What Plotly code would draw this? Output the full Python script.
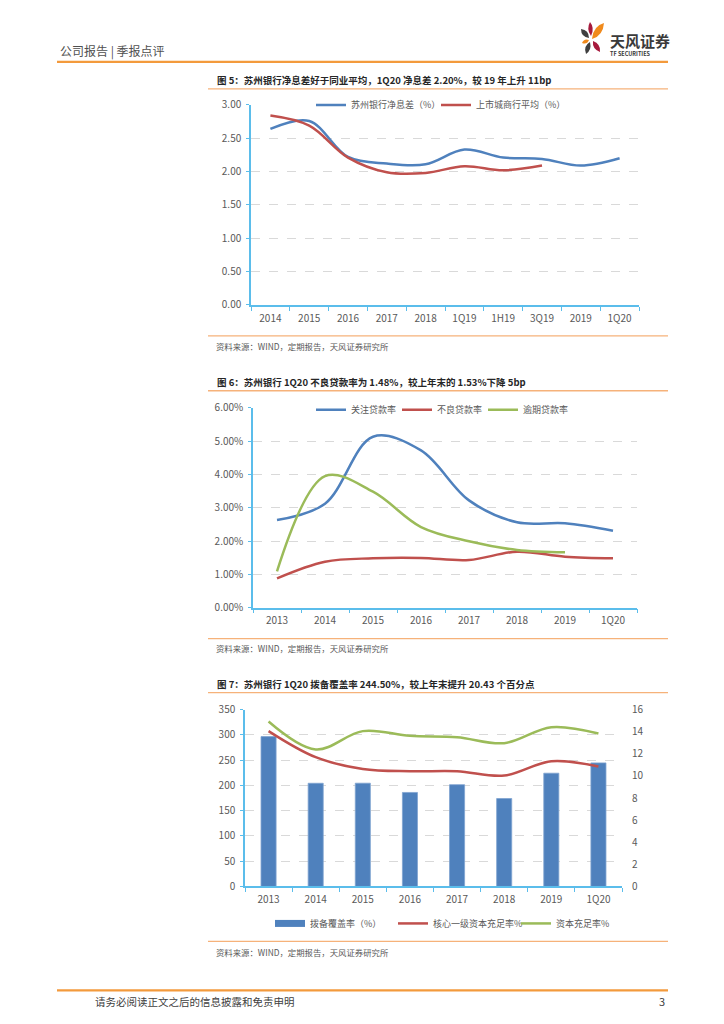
import plotly.graph_objects as go

W, H = 724, 1024

# 图5：净息差
nim_cats = ['2014', '2015', '2016', '2017', '2018', '1Q19', '1H19', '3Q19', '2019', '1Q20']
nim_szb = [2.64, 2.76, 2.22, 2.12, 2.11, 2.33, 2.21, 2.19, 2.09, 2.20]
nim_avg = [2.84, 2.69, 2.21, 1.99, 1.98, 2.08, 2.02, 2.09]

# 图6：资产质量（%）
aq_cats = ['2013', '2014', '2015', '2016', '2017', '2018', '2019', '1Q20']
special_mention = [2.63, 3.12, 5.13, 4.72, 3.22, 2.56, 2.53, 2.31]
npl = [0.88, 1.38, 1.48, 1.49, 1.43, 1.68, 1.53, 1.48]
overdue = [1.09, 3.95, 3.48, 2.42, 1.99, 1.73, 1.66]

# 图7：拨备覆盖率与资本充足率
cap_cats = ['2013', '2014', '2015', '2016', '2017', '2018', '2019', '1Q20']
provision = [296.5, 204.2, 204.3, 186.0, 201.4, 174.0, 224.07, 244.50]
core_t1 = [14.05, 11.69, 10.63, 10.42, 10.42, 10.03, 11.33, 10.85]
car = [14.92, 12.39, 14.05, 13.63, 13.50, 12.96, 14.41, 13.84]

BLUE = '#4F81BD'
RED = '#C0504D'
GREEN = '#9BBB59'
AXIS = '#5BBDEB'
GRID = '#D9D9D9'
TXT = '#595959'
ORANGE = '#F39A3C'
LIGHT_OR = '#F6B27A'
FONT = 'Noto Sans CJK SC, Noto Sans, sans-serif'

# 截图时页面有偏移，按实测做补偿
DX, DY, SY = 8, 16, 0.985


def px(x):
    return (x - DX) / W


def py(y):
    return 1 - (y - DY) / SY / H


def pt(x, y):
    return f'{px(x):.5f},{py(y):.5f}'


def leaf(a, c1, b, c2):
    # 叶片形状：两段二次曲线
    return f'M {pt(*a)} Q {pt(*c1)} {pt(*b)} Q {pt(*c2)} {pt(*a)} Z'


fig = go.Figure()

# 图5
fig.add_trace(go.Scatter(x=nim_cats, y=nim_szb, name='苏州银行净息差（%）', mode='lines',
                         line=dict(color=BLUE, width=2.5, shape='spline'),
                         xaxis='x', yaxis='y', legend='legend'))
fig.add_trace(go.Scatter(x=nim_cats[:len(nim_avg)], y=nim_avg, name='上市城商行平均（%）', mode='lines',
                         line=dict(color=RED, width=2.5, shape='spline'),
                         xaxis='x', yaxis='y', legend='legend'))

# 图6
fig.add_trace(go.Scatter(x=aq_cats, y=special_mention, name='关注贷款率', mode='lines',
                         line=dict(color=BLUE, width=2.5, shape='spline'),
                         xaxis='x2', yaxis='y2', legend='legend2'))
fig.add_trace(go.Scatter(x=aq_cats, y=npl, name='不良贷款率', mode='lines',
                         line=dict(color=RED, width=2.5, shape='spline'),
                         xaxis='x2', yaxis='y2', legend='legend2'))
fig.add_trace(go.Scatter(x=aq_cats[:len(overdue)], y=overdue, name='逾期贷款率', mode='lines',
                         line=dict(color=GREEN, width=2.5, shape='spline'),
                         xaxis='x2', yaxis='y2', legend='legend2'))

# 图7
fig.add_trace(go.Bar(x=cap_cats, y=provision, name='拨备覆盖率（%）', showlegend=False,
                     legendgroup='prov',
                     marker=dict(color=BLUE, line=dict(color='#7FA3D0', width=0.8)),
                     xaxis='x3', yaxis='y3', legend='legend3'))
# 图例中用扁长色块表示柱子
fig.add_trace(go.Scatter(x=[None], y=[None], name='拨备覆盖率（%）', mode='lines',
                         legendgroup='prov', line=dict(color=BLUE, width=7),
                         xaxis='x3', yaxis='y3', legend='legend3'))
fig.add_trace(go.Scatter(x=cap_cats, y=core_t1, name='核心一级资本充足率%', mode='lines',
                         line=dict(color=RED, width=2.5, shape='spline'),
                         xaxis='x3', yaxis='y4', legend='legend3'))
fig.add_trace(go.Scatter(x=cap_cats, y=car, name='资本充足率%', mode='lines',
                         line=dict(color=GREEN, width=2.5, shape='spline'),
                         xaxis='x3', yaxis='y4', legend='legend3'))

tick_font = dict(size=10, color=TXT)


def xax(dom, anchor, n):
    return dict(domain=dom, anchor=anchor, type='category', range=[-0.5, n - 0.5],
                showline=True, linecolor=AXIS, linewidth=1.5, ticks='outside',
                tickson='boundaries', ticklen=4, tickcolor=AXIS, showgrid=False,
                tickfont=tick_font, ticklabelstandoff=3, fixedrange=True)


def yax(dom, anchor, rng, dtick, **kw):
    d = dict(domain=dom, anchor=anchor, range=rng, dtick=dtick, showline=True,
             linecolor=AXIS, linewidth=1.5, ticks='outside', ticklen=3, tickcolor=AXIS,
             showgrid=True, gridcolor=GRID, griddash='dash', gridwidth=1,
             zeroline=False, tickfont=tick_font, ticklabelstandoff=3, fixedrange=True)
    d.update(kw)
    return d


leg_font = dict(size=9, color=TXT, family=FONT)

# 页面文字
ann = [
    dict(x=px(58), y=py(50), text='公司报告 | 季报点评', font=dict(size=12, color='#505050')),
    dict(x=px(608), y=py(40), text='<b>天风证券</b>', font=dict(size=15, color='#3A3A3A')),
    dict(x=px(608), y=py(53), text='<b>TF SECURITIES</b>', font=dict(size=5.5, color='#3A3A3A')),
    dict(x=px(215), y=py(79),
         text='<b>图 5：苏州银行净息差好于同业平均，1Q20 净息差 2.20%，较 19 年上升 11bp</b>',
         font=dict(size=9.5, color='#262626')),
    dict(x=px(214), y=py(345), text='资料来源：WIND，定期报告，天风证券研究所', font=dict(size=8.4, color=TXT)),
    dict(x=px(215), y=py(381),
         text='<b>图 6：苏州银行 1Q20 不良贷款率为 1.48%，较上年末的 1.53%下降 5bp</b>',
         font=dict(size=9.5, color='#262626')),
    dict(x=px(214), y=py(647), text='资料来源：WIND，定期报告，天风证券研究所', font=dict(size=8.4, color=TXT)),
    dict(x=px(215), y=py(683),
         text='<b>图 7：苏州银行 1Q20 拨备覆盖率 244.50%，较上年末提升 20.43 个百分点</b>',
         font=dict(size=9.5, color='#262626')),
    dict(x=px(214), y=py(952), text='资料来源：WIND，定期报告，天风证券研究所', font=dict(size=8.4, color=TXT)),
    dict(x=px(93), y=py(1001), text='请务必阅读正文之后的信息披露和免责申明', font=dict(size=10.5, color='#404040')),
    dict(x=px(667), y=py(1001), text='3', font=dict(size=11, color='#404040'), xanchor='right'),
]
for a in ann:
    a.setdefault('xanchor', 'left')
    a.update(xref='paper', yref='paper', yanchor='middle', showarrow=False)
    a['font'].setdefault('family', FONT)

shapes = [
    dict(type='line', x0=px(57), x1=px(668), y0=py(61), y1=py(61), line=dict(color=ORANGE, width=2.2)),
    dict(type='line', x0=px(57), x1=px(668), y0=py(990), y1=py(990), line=dict(color=ORANGE, width=2.2)),
]
for yy in [88, 335, 390, 638, 692, 941]:
    shapes.append(dict(type='line', x0=px(208), x1=px(668), y0=py(yy), y1=py(yy),
                       line=dict(color=LIGHT_OR, width=1.3)))

# 标志花瓣
petals = [
    (leaf((590, 21), (595, 27), (591, 35), (586, 28)), '#A6193C'),
    (leaf((592, 38), (593, 25), (604, 22), (603, 35)), '#F08A1C'),
    (leaf((581, 28), (589, 29), (589, 37), (581, 36)), '#3F3F3F'),
    (leaf((582, 42), (584, 37), (589, 39), (587, 44)), '#F08A1C'),
    (leaf((590, 41), (592, 49), (586, 53), (583, 45)), '#3F3F3F'),
    (leaf((593, 40), (601, 43), (600, 51), (592, 48)), '#A6193C'),
]
for path, col in petals:
    shapes.append(dict(type='path', path=path, fillcolor=col, line=dict(width=0)))
for s in shapes:
    s.update(xref='paper', yref='paper')

fig.update_layout(
    width=W, height=H, margin=dict(l=0, r=0, t=0, b=0),
    paper_bgcolor='white', plot_bgcolor='white',
    font=dict(family=FONT, color=TXT),
    bargap=0.68,
    xaxis=xax([px(251), px(639)], 'y', len(nim_cats)),
    yaxis=yax([py(304), py(104)], 'x', [0, 3], 0.5, tickformat='.2f'),
    xaxis2=xax([px(253), px(637)], 'y2', len(aq_cats)),
    yaxis2=yax([py(607), py(407)], 'x2', [0, 6], 1, tickformat='.2f', ticksuffix='%'),
    xaxis3=xax([px(245), px(622)], 'y3', len(cap_cats)),
    yaxis3=yax([py(886), py(709)], 'x3', [0, 350], 50),
    yaxis4=dict(overlaying='y3', side='right', anchor='x3', range=[0, 16], dtick=2,
                showgrid=False, showline=False, zeroline=False, tickfont=tick_font,
                ticks='', ticklabelstandoff=9, fixedrange=True),
    legend=dict(x=px(311), y=py(104), xanchor='left', yanchor='middle', orientation='h',
                font=leg_font, bgcolor='white', itemwidth=30, entrywidth=80),
    legend2=dict(x=px(311), y=py(409), xanchor='left', yanchor='middle', orientation='h',
                 font=leg_font, bgcolor='white', itemwidth=30, entrywidth=41),
    legend3=dict(x=px(270), y=py(923), xanchor='left', yanchor='middle', orientation='h',
                 font=leg_font, bgcolor='rgba(0,0,0,0)', itemwidth=30, entrywidth=78),
    annotations=ann,
    shapes=shapes,
    showlegend=True,
)

fig.write_html('out.html')
